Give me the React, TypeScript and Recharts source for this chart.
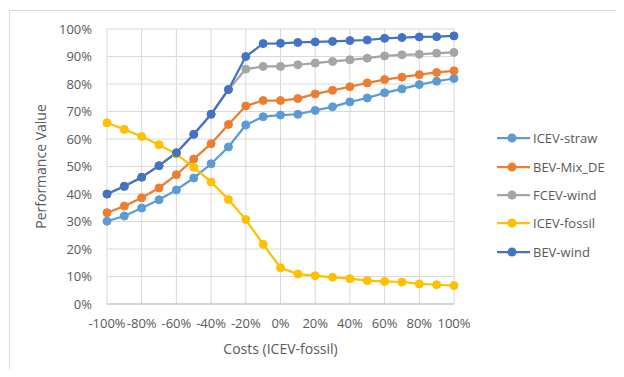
import { LineChart, Line, XAxis, YAxis, CartesianGrid, Label } from 'recharts';

// cost change of the fossil ICEV, in percent
const costSteps = [-100, -90, -80, -70, -60, -50, -40, -30, -20, -10, 0, 10, 20, 30, 40, 50, 60, 70, 80, 90, 100];
const xTicks = [-100, -80, -60, -40, -20, 0, 20, 40, 60, 80, 100];
const yTicks = [0, 10, 20, 30, 40, 50, 60, 70, 80, 90, 100];

const icevStraw = [30.1, 32, 34.9, 37.9, 41.5, 45.8, 51, 57.1, 65.1, 68.1, 68.7, 69, 70.4, 71.7, 73.5, 74.9, 76.8, 78.2, 79.8, 81, 82];
const bevMixDe = [33.2, 35.6, 38.6, 42.2, 47, 52.7, 58.3, 65.3, 72, 74, 74, 74.7, 76.4, 77.7, 79, 80.4, 81.6, 82.5, 83.4, 84.2, 84.8];
const fcevWind = [40, 42.8, 46.1, 50.3, 55, 61.7, 69, 78, 85.4, 86.4, 86.4, 87, 87.6, 88.2, 88.8, 89.4, 90.2, 90.6, 90.8, 91.2, 91.5];
const icevFossil = [65.9, 63.5, 60.9, 57.9, 54.5, 49.7, 44.4, 38, 30.7, 21.7, 13.2, 10.9, 10.3, 9.7, 9.2, 8.5, 8.2, 8, 7.3, 7, 6.7];
const bevWind = [40, 42.8, 46.1, 50.3, 55, 61.7, 69, 78, 90, 94.7, 94.8, 95.1, 95.3, 95.5, 95.8, 96, 96.6, 96.9, 97.1, 97.2, 97.5];

const SERIES = [
  { key: 'ICEV-straw', values: icevStraw, color: '#5B9BD5' },
  { key: 'BEV-Mix_DE', values: bevMixDe, color: '#ED7D31' },
  { key: 'FCEV-wind', values: fcevWind, color: '#A5A5A5' },
  { key: 'ICEV-fossil', values: icevFossil, color: '#FFC000' },
  { key: 'BEV-wind', values: bevWind, color: '#4472C4' },
];

const data = costSteps.map((cost, i) => {
  const row: any = { cost };
  SERIES.forEach((s) => { row[s.key] = s.values[i]; });
  return row;
});

const FONT = '"Open Sans", sans-serif';
const TEXT = '#595959';

// legend sits to the right of the plot, outside the svg
const SeriesLegend = () => (
  <div style={{ position: 'absolute', left: 497, top: 124, fontFamily: FONT, fontSize: 13, color: TEXT }}>
    {SERIES.map((s) => (
      <div key={s.key} style={{ display: 'flex', alignItems: 'center', height: 28.4 }}>
        <svg width={33} height={12} style={{ marginRight: 3 }}>
          <line x1={0} y1={6} x2={33} y2={6} stroke={s.color} strokeWidth={2.25} />
          <circle cx={15} cy={6} r={4.5} fill={s.color} />
        </svg>
        <span>{s.key}</span>
      </div>
    ))}
  </div>
);

export default function App() {
  return (
    <div style={{ position: 'relative', width: 624, height: 377, margin: -8, overflow: 'hidden', background: '#fff' }}>
      <div style={{ position: 'absolute', left: 9, top: 10, width: 700, height: 400, borderLeft: '1px solid #d9d9d9', borderTop: '1px solid #d9d9d9' }} />
      <LineChart width={624} height={377} data={data} margin={{ top: 29, right: 170, bottom: 0, left: 0 }}>
        <CartesianGrid stroke="#d9d9d9" strokeWidth={1} />
        <XAxis
          dataKey="cost"
          type="number"
          domain={[-100, 100]}
          ticks={xTicks}
          tickFormatter={(v) => `${v}%`}
          height={73}
          axisLine={{ stroke: '#bfbfbf' }}
          tickLine={false}
          tickMargin={9}
          interval={0}
          tick={{ fill: TEXT, fontSize: 13, fontFamily: FONT }}
        >
          <Label value="Costs (ICEV-fossil)" position="insideBottom" offset={23} fill={TEXT} fontSize={14} fontFamily={FONT} />
        </XAxis>
        <YAxis
          type="number"
          domain={[0, 100]}
          ticks={yTicks}
          tickFormatter={(v) => `${v}%`}
          width={107}
          axisLine={false}
          tickLine={false}
          tickMargin={9}
          interval={0}
          tick={{ fill: TEXT, fontSize: 13, fontFamily: FONT }}
        >
          <Label value="Performance Value" angle={-90} position="center" dx={-12} fill={TEXT} fontSize={14} fontFamily={FONT} />
        </YAxis>
        {SERIES.map((s) => (
          <Line
            key={s.key}
            dataKey={s.key}
            stroke={s.color}
            strokeWidth={2.25}
            dot={{ r: 4, fill: s.color, stroke: s.color, strokeWidth: 1 }}
            activeDot={false}
            isAnimationActive={false}
          />
        ))}
      </LineChart>
      <SeriesLegend />
    </div>
  );
}
